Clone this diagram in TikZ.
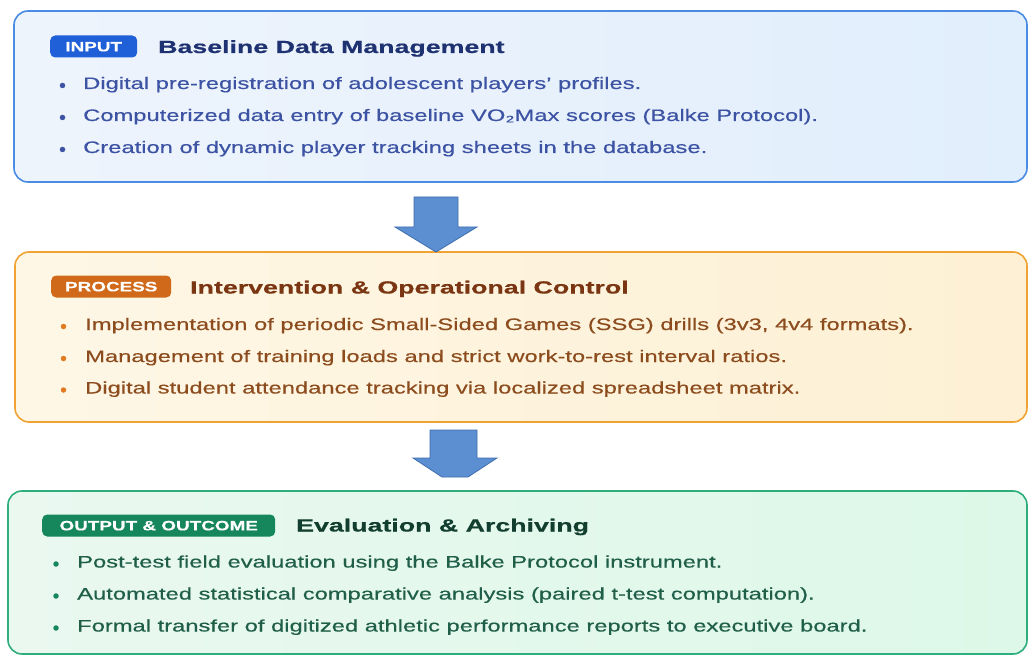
\documentclass[tikz,border=0pt]{standalone}
\usepackage{fontspec}
\setmainfont{Liberation Sans}[FakeStretch=1.43, FakeBold=0.4]
\newfontfamily\headfont{Liberation Sans}[FakeStretch=1.52, FakeBold=0.6]
\newfontfamily\tagfont{Liberation Sans}[FakeStretch=1.40, FakeBold=0.4]
\definecolor{inBorder}{HTML}{4A8BE3}
\definecolor{inFillL}{HTML}{EEF4FC}
\definecolor{inFillR}{HTML}{E1EEFC}
\definecolor{inBadge}{HTML}{1F5FD8}
\definecolor{inTitle}{HTML}{1E3170}
\definecolor{inText}{HTML}{3C52A3}
\definecolor{prBorder}{HTML}{F0A232}
\definecolor{prFillL}{HTML}{FEF7E6}
\definecolor{prFillR}{HTML}{FDF0D4}
\definecolor{prBadge}{HTML}{D06A1A}
\definecolor{prTitle}{HTML}{7A3612}
\definecolor{prText}{HTML}{8C4C1E}
\definecolor{prDot}{HTML}{E07B22}
\definecolor{ouBorder}{HTML}{2EAE7C}
\definecolor{ouFillL}{HTML}{EAF8F0}
\definecolor{ouFillR}{HTML}{DDF8E8}
\definecolor{ouBadge}{HTML}{16865D}
\definecolor{ouTitle}{HTML}{123E2F}
\definecolor{ouText}{HTML}{1F5E48}
\definecolor{arFill}{HTML}{5B8FD1}
\definecolor{arLine}{HTML}{3F6EAE}
\begin{document}
\begin{tikzpicture}[x=1pt,y=-1pt,
  panel/.style={draw, rounded corners=14pt, line width=1.6pt, inner sep=0pt},
  badge/.style={rounded corners=5pt, inner xsep=0pt, inner ysep=0pt, minimum height=22pt,
    text height=9.6pt, text depth=0pt,
    text=white, font=\tagfont\bfseries\fontsize{13.5}{15}\selectfont, anchor=west},
  ttl/.style={anchor=base west, inner sep=0pt, font=\headfont\bfseries\fontsize{17.6}{20}\selectfont},
  itm/.style={anchor=base west, inner sep=0pt, font=\fontsize{16.6}{19}\selectfont},
  dot/.style={circle, inner sep=0pt, minimum size=5.5pt},
  blockarrow/.style={fill=arFill, draw=arLine, line width=0.8pt, line join=miter}]
\useasboundingbox (0,0) rectangle (1028,655);
\fill[white] (0,0) rectangle (1028,655);

% --- input panel
\node[panel, draw=inBorder, left color=inFillL, right color=inFillR,
  minimum width=1013pt, minimum height=171pt] (inbox) at (520.5,96.5) {};
\node[badge, fill=inBadge, minimum width=87pt] (inbadge) at (50,46.5) {INPUT};
\node[ttl, text=inTitle] (intitle) at (158,53) {Baseline Data Management};
\foreach \y/\t [count=\i] in {89/{Digital pre-registration of adolescent players' profiles.},
  121/{Computerized data entry of baseline VO₂Max scores (Balke Protocol).},
  153/{Creation of dynamic player tracking sheets in the database.}}{
  \node[dot, fill=inText] (indot\i) at (62.5,\y-3.5) {};
  \node[itm, text=inText] (initem\i) at (83,\y) {\t};
}

% --- process panel
\node[panel, draw=prBorder, left color=prFillL, right color=prFillR,
  minimum width=1012pt, minimum height=170pt] (prbox) at (521,337) {};
\node[badge, fill=prBadge, minimum width=120pt] (prbadge) at (51,286.5) {PROCESS};
\node[ttl, text=prTitle] (prtitle) at (190,293.5) {Intervention \& Operational Control};
\foreach \y/\t [count=\i] in {330/{Implementation of periodic Small-Sided Games (SSG) drills (3v3, 4v4 formats).},
  362/{Management of training loads and strict work-to-rest interval ratios.},
  393.5/{Digital student attendance tracking via localized spreadsheet matrix.}}{
  \node[dot, fill=prDot] (prdot\i) at (63.5,\y-3.5) {};
  \node[itm, text=prText] (pritem\i) at (85,\y) {\t};
}

% --- output panel
\node[panel, draw=ouBorder, left color=ouFillL, right color=ouFillR,
  minimum width=1019pt, minimum height=163pt] (oubox) at (517.5,572.5) {};
\node[badge, fill=ouBadge, minimum width=233pt] (oubadge) at (42,525.5) {OUTPUT \& OUTCOME};
\node[ttl, text=ouTitle] (outitle) at (296,531.5) {Evaluation \& Archiving};
\foreach \y/\t [count=\i] in {567.5/{Post-test field evaluation using the Balke Protocol instrument.},
  599.5/{Automated statistical comparative analysis (paired t-test computation).},
  631.5/{Formal transfer of digitized athletic performance reports to executive board.}}{
  \node[dot, fill=ouBadge] (oudot\i) at (56,\y-3.5) {};
  \node[itm, text=ouText] (ouitem\i) at (77,\y) {\t};
}

% --- block arrows between the panels
\coordinate (a1) at (436,197);
\draw[blockarrow] (a1) ++(-22,0) -- ++(44,0) -- ++(0,30) -- ++(19,0)
  -- (436,252) -- (395,227) -- (414,227) -- cycle;
\coordinate (a2) at (453,430);
\draw[blockarrow] (a2) ++(-23,0) -- ++(47,0) -- ++(0,28) -- ++(20,0)
  -- (468,477) -- (442,477) -- (413,458) -- (430,458) -- cycle;
\end{tikzpicture}
\end{document}
